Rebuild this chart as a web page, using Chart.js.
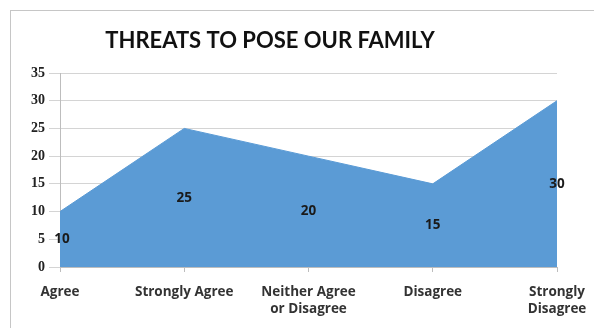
<!DOCTYPE html>
<html>
<head>
<meta charset="utf-8">
<script src="https://cdn.jsdelivr.net/npm/chart.js@4/dist/chart.umd.min.js"></script>
<style>
  html, body { margin: 0; padding: 0; background: #fff; }
  #wrap { position: relative; width: 594px; height: 328px; overflow: hidden; }
  #frame {
    position: absolute; left: 10px; top: 10px; width: 600px; height: 330px;
    border-top: 1px solid #c6c6c6; border-left: 1px solid #c6c6c6;
  }
  #chart { position: absolute; left: 0; top: 0; }
</style>
</head>
<body>
<div id="wrap">
  <div id="frame"></div>
  <canvas id="chart" width="594" height="328"></canvas>
</div>
<script>
// Survey answers and how many responses each got
const categories = ['Agree', 'Strongly Agree', ['Neither Agree', 'or Disagree'], 'Disagree', ['Strongly', 'Disagree']];
const responses = [10, 25, 20, 15, 30];
const yTicks = [0, 5, 10, 15, 20, 25, 30, 35];

const titleText = 'THREATS TO POSE OUR FAMILY';

// Title drawn over the left part of the frame
const titlePlugin = {
  id: 'frameTitle',
  afterDraw(chart) {
    const ctx = chart.ctx;
    ctx.save();
    ctx.font = 'bold 22px Lato';
    ctx.fillStyle = '#111';
    ctx.textAlign = 'center';
    ctx.textBaseline = 'middle';
    ctx.fillText(titleText, 270, 41);
    ctx.restore();
  }
};

// Value labels sit in the middle of the filled area
const valueLabels = {
  id: 'valueLabels',
  afterDatasetsDraw(chart) {
    const ctx = chart.ctx;
    const xs = chart.scales.x, ys = chart.scales.y;
    ctx.save();
    ctx.font = 'bold 13.5px "Open Sans"';
    ctx.fillStyle = '#1a1a1a';
    ctx.textAlign = 'center';
    ctx.textBaseline = 'middle';
    responses.forEach((v, i) => {
      let x = xs.getPixelForValue(i);
      if (i === 0) x += 2;
      ctx.fillText(String(v), x, ys.getPixelForValue(v / 2));
    });
    ctx.restore();
  }
};

new Chart(document.getElementById('chart'), {
  type: 'line',
  data: {
    labels: categories,
    datasets: [{
      data: responses,
      fill: 'origin',
      backgroundColor: '#5b9bd5',
      borderColor: '#5b9bd5',
      borderWidth: 1,
      pointRadius: 0,
      tension: 0
    }]
  },
  options: {
    responsive: false,
    animation: false,
    layout: { padding: { left: 0, right: 37, top: 73, bottom: 0 } },
    plugins: {
      legend: { display: false },
      tooltip: { enabled: false }
    },
    scales: {
      x: {
        offset: false,
        afterFit(scale) {
          scale.height = 61;
          // let the last label hang past the plot edge
          scale.paddingLeft = 0;
          scale.paddingRight = 0;
        },
        grid: {
          drawOnChartArea: false,
          drawTicks: true,
          tickLength: 5,
          color: '#bdbdbd'
        },
        border: { color: '#bdbdbd' },
        ticks: {
          padding: 11,
          maxRotation: 0,
          autoSkip: false,
          color: '#333',
          font: { family: 'Open Sans', size: 13.5, weight: 'bold', lineHeight: 1.3 }
        }
      },
      y: {
        min: 0,
        max: 35,
        afterFit(scale) { scale.width = 60; },
        afterBuildTicks(scale) { scale.ticks = yTicks.map(v => ({ value: v })); },
        grid: { color: '#d4d4d4', tickLength: 11 },
        border: { color: '#bdbdbd' },
        ticks: {
          padding: 4,
          color: '#222',
          font: { family: 'Liberation Serif', size: 14, weight: 'bold' }
        }
      }
    }
  },
  plugins: [titlePlugin, valueLabels]
});
</script>
</body>
</html>
